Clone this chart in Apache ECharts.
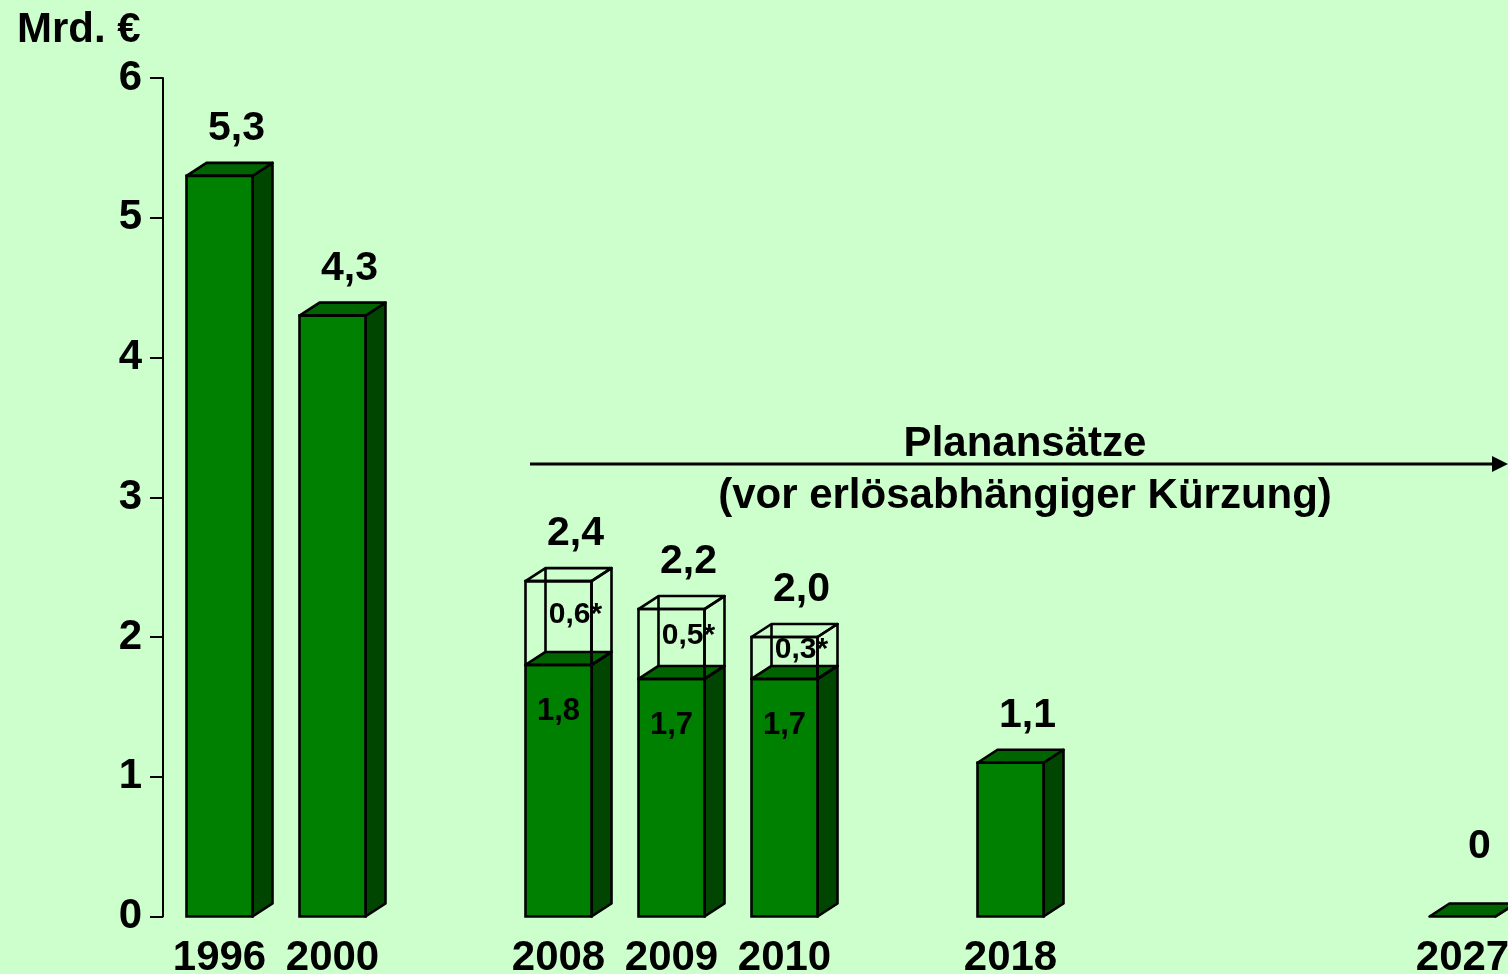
<!DOCTYPE html>
<html>
<head>
<meta charset="utf-8">
<script src="https://cdn.jsdelivr.net/npm/echarts@6/dist/echarts.min.js"></script>
<style>
  html, body { margin: 0; padding: 0; background: #ccffcc; }
  #chart { width: 1508px; height: 974px; }
</style>
</head>
<body>
<div id="chart"></div>
<script>
var categories = ['1996', '2000', '', '2008', '2009', '2010', '', '2018', '', '', '', '2027'];
// green part of each bar (Mrd. €)
var baseValues = [5.3, 4.3, null, 1.8, 1.7, 1.7, null, 1.1, null, null, null, 0];
// outlined part on top (subject to revenue-dependent cut)
var extraValues = [null, null, null, 0.6, 0.5, 0.3, null, null, null, null, null, null];
var yTicks = [0, 1, 2, 3, 4, 5, 6];

var FONT = '"Liberation Sans", Arial, sans-serif';
var DX = 20, DY = -13, HALF = 33;

function fmt(v) {
  if (v === 0) return '0';
  return v.toFixed(1).replace('.', ',');
}

var seriesData = [];
baseValues.forEach(function (v, i) {
  if (v === null) return;
  seriesData.push([i, v, extraValues[i] || 0]);
});

function box(x0, x1, yt, yb, fills, stroke) {
  var items = [];
  items.push({
    type: 'polygon',
    shape: { points: [[x1, yt], [x1 + DX, yt + DY], [x1 + DX, yb + DY], [x1, yb]] },
    style: { fill: fills ? fills.side : 'none', stroke: stroke, lineWidth: 2.6, lineJoin: 'round' }
  });
  items.push({
    type: 'polygon',
    shape: { points: [[x0, yt], [x0 + DX, yt + DY], [x1 + DX, yt + DY], [x1, yt]] },
    style: { fill: fills ? fills.top : 'none', stroke: stroke, lineWidth: 2.6, lineJoin: 'round' }
  });
  if (yb > yt + 0.5) {
    items.push({
      type: 'rect',
      shape: { x: x0, y: yt, width: x1 - x0, height: yb - yt },
      style: { fill: fills ? fills.front : 'none', stroke: stroke, lineWidth: 2.6 }
    });
  }
  if (!fills) {
    // hidden back edge of the wireframe box
    items.push({
      type: 'line',
      shape: { x1: x0 + DX, y1: yt + DY, x2: x0 + DX, y2: yb + DY },
      style: { stroke: stroke, lineWidth: 2.6 }
    });
  }
  return items;
}

function renderItem(params, api) {
  var idx = api.value(0);
  var base = api.value(1);
  var extra = api.value(2);
  var p0 = api.coord([idx, 0]);
  var p1 = api.coord([idx, base]);
  var p2 = api.coord([idx, base + extra]);
  var x0 = p0[0] - HALF, x1 = p0[0] + HALF;
  var children = box(x0, x1, p1[1], p0[1],
    { front: '#008000', top: '#006400', side: '#004600' }, '#000');

  if (extra > 0) {
    children = children.concat(box(x0, x1, p2[1], p1[1], null, '#000'));
    children.push({
      type: 'text',
      style: {
        text: fmt(base), x: p0[0], y: p1[1] + 47,
        fill: '#000', font: 'bold 31px ' + FONT, align: 'center', verticalAlign: 'middle'
      }
    });
    children.push({
      type: 'text',
      style: {
        text: fmt(extra) + '*', x: p0[0] + 17, y: (p1[1] + p2[1]) / 2 - 8,
        fill: '#000', font: 'bold 30px ' + FONT, align: 'center', verticalAlign: 'middle'
      }
    });
  }

  var total = Math.round((base + extra) * 10) / 10;
  var labelY = Math.min(p2[1] - 47, p0[1] - 70);
  children.push({
    type: 'text',
    style: {
      text: fmt(total), x: p0[0] + 17, y: labelY,
      fill: '#000', font: 'bold 41px ' + FONT, align: 'center', verticalAlign: 'middle'
    }
  });
  return { type: 'group', children: children };
}

var chart = echarts.init(document.getElementById('chart'));
var option = {
  backgroundColor: '#ccffcc',
  animation: false,
  grid: {
    left: 163, top: 78, width: 1356, height: 838.5,
    containLabel: false, outerBoundsMode: 'none'
  },
  xAxis: {
    type: 'category',
    data: categories,
    axisLine: { show: false },
    axisTick: { show: false },
    axisLabel: {
      interval: 0, margin: 21, color: '#000',
      fontSize: 42, fontWeight: 'bold', fontFamily: FONT
    }
  },
  yAxis: {
    type: 'value',
    min: yTicks[0],
    max: yTicks[yTicks.length - 1],
    interval: 1,
    splitLine: { show: false },
    axisLine: { show: true, lineStyle: { color: '#000', width: 2 } },
    axisTick: { show: true, inside: false, length: 13, lineStyle: { color: '#000', width: 2 } },
    axisLabel: {
      margin: 21, color: '#000',
      fontSize: 42, fontWeight: 'bold', fontFamily: FONT
    }
  },
  graphic: [
    {
      type: 'text', left: 17, top: 9,
      style: { text: 'Mrd. €', fill: '#000', font: 'bold 42px ' + FONT }
    },
    {
      type: 'line',
      shape: { x1: 530, y1: 464, x2: 1494, y2: 464 },
      style: { stroke: '#000', lineWidth: 3 }
    },
    {
      type: 'polygon',
      shape: { points: [[1492, 456], [1508, 464], [1492, 472]] },
      style: { fill: '#000' }
    },
    {
      type: 'text', x: 1025, y: 444,
      style: { text: 'Planansätze', fill: '#000', font: 'bold 42px ' + FONT, align: 'center', verticalAlign: 'middle' }
    },
    {
      type: 'text', x: 1025, y: 496,
      style: { text: '(vor erlösabhängiger Kürzung)', fill: '#000', font: 'bold 42px ' + FONT, align: 'center', verticalAlign: 'middle' }
    }
  ],
  series: [
    {
      type: 'custom',
      renderItem: renderItem,
      clip: false,
      encode: { x: 0, y: 1 },
      data: seriesData
    }
  ]
};
chart.setOption(option);
</script>
</body>
</html>
